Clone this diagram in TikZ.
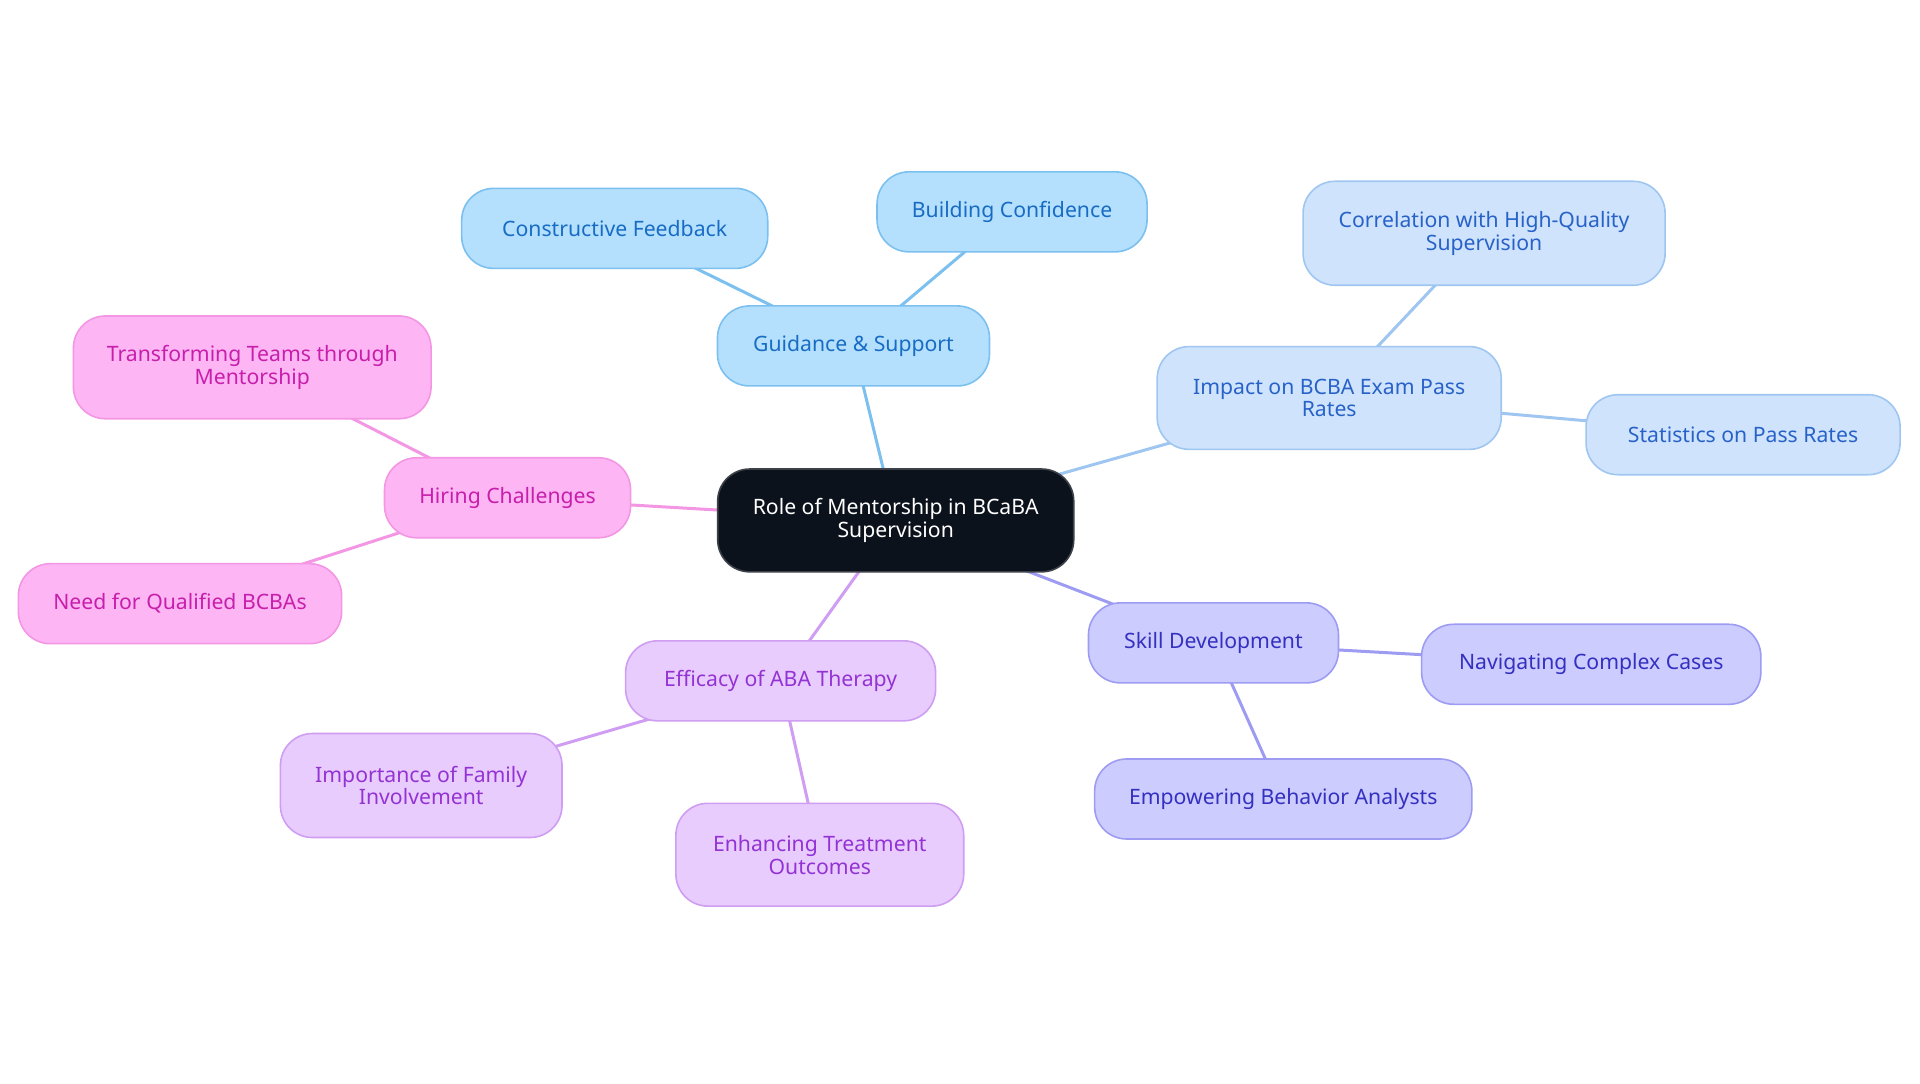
\documentclass[tikz,border=0pt]{standalone}
\usepackage{fontspec}
\setmainfont{Noto Sans}
\usepackage{tikz}
\usetikzlibrary{positioning,calc,shapes,backgrounds}
\definecolor{rootfill}{RGB}{12, 18, 28}
\definecolor{bluefill}{RGB}{180, 224, 253}
\definecolor{blueline}{RGB}{124, 192, 239}
\definecolor{bluetext}{RGB}{24, 108, 196}
\definecolor{skyfill}{RGB}{207, 228, 252}
\definecolor{skyline}{RGB}{159, 198, 240}
\definecolor{skytext}{RGB}{40, 98, 200}
\definecolor{violetfill}{RGB}{204, 204, 254}
\definecolor{violetline}{RGB}{157, 156, 242}
\definecolor{violettext}{RGB}{52, 48, 192}
\definecolor{lilacfill}{RGB}{232, 204, 253}
\definecolor{lilacline}{RGB}{207, 157, 242}
\definecolor{lilactext}{RGB}{148, 51, 212}
\definecolor{pinkfill}{RGB}{253, 182, 243}
\definecolor{pinkline}{RGB}{243, 150, 228}
\definecolor{pinktext}{RGB}{200, 30, 172}
\tikzstyle{mapnode}=[draw,rounded corners=16pt,line width=0.8pt,align=center,minimum height=40pt,inner sep=2pt,font=\fontsize{10.6}{11.4}\selectfont]
\tikzstyle{rootnode}=[mapnode,fill=rootfill,draw=rootfill!80!white,text=white]
\tikzstyle{blueleaf}=[mapnode,fill=bluefill,draw=blueline,text=bluetext]
\tikzstyle{skyleaf}=[mapnode,fill=skyfill,draw=skyline,text=skytext]
\tikzstyle{violetleaf}=[mapnode,fill=violetfill,draw=violetline,text=violettext]
\tikzstyle{lilacleaf}=[mapnode,fill=lilacfill,draw=lilacline,text=lilactext]
\tikzstyle{pinkleaf}=[mapnode,fill=pinkfill,draw=pinkline,text=pinktext]
\tikzstyle{link}=[line width=1.5pt]

\begin{document}
\begin{tikzpicture}[x=0.6122pt,y=-0.6122pt]
      \useasboundingbox (0,0) rectangle (1568,884.5);
      \node (root) at (731.5,425) [rootnode, minimum width=178pt, minimum height=51.4pt] {Role of Mentorship in BCaBA\\Supervision};

      \node (guid) at (697,282.5) [blueleaf, minimum width=136pt] {Guidance \& Support};
      \node (constr) at (502,186.5) [blueleaf, minimum width=153pt] {Constructive Feedback};
      \node (build) at (826.5,173) [blueleaf, minimum width=135pt] {Building Confidence};

      \node (impact) at (1085.5,325) [skyleaf, minimum width=172pt, minimum height=51.4pt] {Impact on BCBA Exam Pass\\Rates};
      \node (corr) at (1212,190.5) [skyleaf, minimum width=181pt, minimum height=52pt] {Correlation with High-Quality\\Supervision};
      \node (stats) at (1423.5,355) [skyleaf, minimum width=157pt] {Statistics on Pass Rates};

      \node (skill) at (991,525) [violetleaf, minimum width=125pt] {Skill Development};
      \node (nav) at (1299.5,542.5) [violetleaf, minimum width=169.6pt] {Navigating Complex Cases};
      \node (empow) at (1048,652.5) [violetleaf, minimum width=188.6pt] {Empowering Behavior Analysts};

      \node (effic) at (637.5,556) [lilacleaf, minimum width=155pt] {Efficacy of ABA Therapy};
      \node (import) at (344,641.5) [lilacleaf, minimum width=140.8pt, minimum height=52pt] {Importance of Family\\Involvement};
      \node (enhanc) at (669.5,698) [lilacleaf, minimum width=143.9pt, minimum height=51.4pt] {Enhancing Treatment\\Outcomes};

      \node (hiring) at (414.5,406.5) [pinkleaf, minimum width=123pt] {Hiring Challenges};
      \node (transf) at (206,300) [pinkleaf, minimum width=178.8pt, minimum height=51.4pt] {Transforming Teams through\\Mentorship};
      \node (need) at (147,493) [pinkleaf, minimum width=161.6pt] {Need for Qualified BCBAs};

      % links run centre to centre, hidden behind the boxes
      \begin{scope}[on background layer]
      \draw[link, blueline] (root.center) -- (guid.center);
      \draw[link, blueline] (guid.center) -- (constr.center);
      \draw[link, blueline] (guid.center) -- (build.center);
      \draw[link, skyline] (root.center) -- (impact.center);
      \draw[link, skyline] (impact.center) -- (corr.center);
      \draw[link, skyline] (impact.center) -- (stats.center);
      \draw[link, violetline] (root.center) -- (skill.center);
      \draw[link, violetline] (skill.center) -- (nav.center);
      \draw[link, violetline] (skill.center) -- (empow.center);
      \draw[link, lilacline] (root.center) -- (effic.center);
      \draw[link, lilacline] (effic.center) -- (import.center);
      \draw[link, lilacline] (effic.center) -- (enhanc.center);
      \draw[link, pinkline] (root.center) -- (hiring.center);
      \draw[link, pinkline] (hiring.center) -- (transf.center);
      \draw[link, pinkline] (hiring.center) -- (need.center);
      \end{scope}
    \end{tikzpicture}
\end{document}
